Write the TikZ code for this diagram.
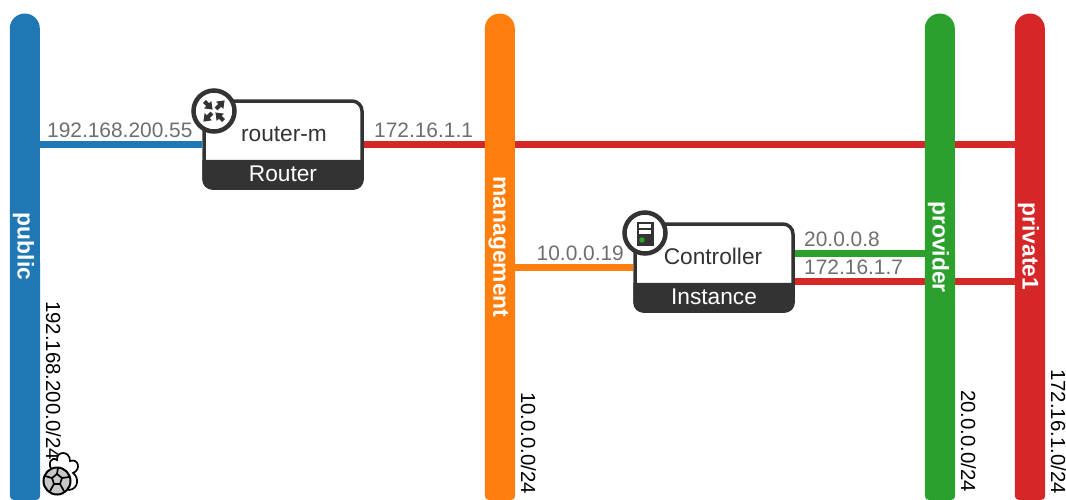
\documentclass[tikz,border=0pt]{standalone}
\usepackage{fontspec}
\setmainfont{Liberation Sans}
\usetikzlibrary{backgrounds,calc}
\definecolor{netblue}{HTML}{1F77B4}
\definecolor{netorange}{HTML}{FF7F0E}
\definecolor{netgreen}{HTML}{2CA02C}
\definecolor{netred}{HTML}{D62728}
\definecolor{dev}{HTML}{333333}
\definecolor{lab}{HTML}{6E6E6E}
\tikzset{
  x=1pt,y=-1pt,
  netbar/.style={minimum width=30pt,minimum height=486pt,inner sep=0pt,anchor=north},
  netname/.style={text=white,font=\fontsize{22.8}{23}\selectfont\bfseries,rotate=-90},
  cidr/.style={text=black,font=\fontsize{20.4}{20}\selectfont,rotate=-90,anchor=west,inner sep=0pt},
  iplabel/.style={text=lab,font=\fontsize{20.9}{20}\selectfont,inner sep=0pt,anchor=base west},
  link/.style={line width=7pt},
  devbox/.style={minimum width=158pt,minimum height=87pt,inner sep=0pt,draw=dev,line width=3.5pt,rounded corners=10pt,fill=white},
  devfoot/.style={text=white,font=\fontsize{22.7}{23}\selectfont,inner sep=0pt},
  devname/.style={text=dev,font=\fontsize{22.7}{23}\selectfont,inner sep=0pt},
  badge/.style={circle,draw=dev,line width=4.5pt,fill=white,minimum size=41pt,inner sep=0pt},
  gl/.style={draw=black,line width=1.7pt},
}
\newcommand{\netbar}[3]{%
  \node[netbar] (#1) at (#2,13.5) {};
  \fill[#3] ($(#1.north west)+(0,15)$) arc[start angle=180,end angle=0,x radius=15pt,y radius=15pt]
    -- ($(#1.south east)+(0,-4)$) arc[start angle=0,end angle=-90,radius=4pt]
    -- ($(#1.south west)+(4,0)$) arc[start angle=-90,end angle=-180,radius=4pt] -- cycle;
}
\newcommand{\devbox}[4]{%
  \node[devbox] (#1) at (#2,#3) {};
  \fill[dev,rounded corners=10pt] ($(#1.south west)+(0,-30)$) [sharp corners] -- ($(#1.south west)+(0,-30)$) [rounded corners=10pt] -- (#1.south west) -- (#1.south east) [sharp corners] -- ($(#1.south east)+(0,-30)$) -- cycle;
}
\begin{document}
\begin{tikzpicture}
\useasboundingbox (0,0) rectangle (1066,499);
% networks
\netbar{public}{25}{netblue}
\netbar{management}{500}{netorange}
\netbar{provider}{940}{netgreen}
\netbar{private}{1030}{netred}
\node[netname] (publicname) at (23.5,246.5) {public};
\node[netname] (managementname) at (498.5,247) {management};
\node[netname] (providername) at (938.5,247) {provider};
\node[netname] (privatename) at (1028.5,246.5) {private1};
\node[cidr] (publiccidr) at (53.5,301) {192.168.200.0/24};
\node[cidr] (managementcidr) at (528.5,392) {10.0.0.0/24};
\node[cidr] (providercidr) at (968.5,390) {20.0.0.0/24};
\node[cidr] (privatecidr) at (1058.5,369) {172.16.1.0/24};
% devices
\devbox{router}{283}{144.5}{}
\devbox{controller}{714}{267.5}{}
\node[devname] (routername) at (284,134) {router-m};
\node[devfoot] (routerfoot) at (283,174) {Router};
\node[devname] (controllername) at (713,256) {Controller};
\node[devfoot] (controllerfoot) at (714,297) {Instance};
% connectors behind bars and boxes
\begin{scope}[on background layer]
\draw[link,netblue] (router.west) -- (public.center |- router.west);
\draw[link,netred] (router.east) -- (private.center |- router.east);
\draw[link,netorange] (controller.west) -- (management.center |- controller.west);
\coordinate (ctrlgreen) at ($(controller.east)+(0,-14)$);
\coordinate (ctrlred) at ($(controller.east)+(0,14)$);
\draw[link,netgreen] (ctrlgreen) -- (provider.center |- ctrlgreen);
\draw[link,netred] (ctrlred) -- (private.center |- ctrlred);
\end{scope}
\node[iplabel] (ip1) at (47,137) {192.168.200.55};
\node[iplabel] (ip2) at (374,137) {172.16.1.1};
\node[iplabel] (ip3) at (536.5,260) {10.0.0.19};
\node[iplabel] (ip4) at (804,246) {20.0.0.8};
\node[iplabel] (ip5) at (804,274) {172.16.1.7};
% router badge: two arrows point inward, two outward
\node[badge] (routerbadge) at (214,111) {};
\foreach \a in {135,315}{
  \begin{scope}[shift={(routerbadge.center)},rotate=\a]
    \fill[dev] (13.5,-2) -- (9,-2) -- (9,-5.2) -- (2,0) -- (9,5.2) -- (9,2) -- (13.5,2) -- cycle;
  \end{scope}
}
\foreach \a in {45,225}{
  \begin{scope}[shift={(routerbadge.center)},rotate=\a]
    \fill[dev] (3,-2) -- (8,-2) -- (8,-5.2) -- (15,0) -- (8,5.2) -- (8,2) -- (3,2) -- cycle;
  \end{scope}
}
% instance badge
\node[badge] (controllerbadge) at (645,233) {};
\begin{scope}[shift={(controllerbadge.center)}]
  \fill[dev] (-8.5,-11) rectangle (8.5,13);
  \fill[white] (-5.7,-8.7) rectangle (5.7,-4.7);
  \fill[white] (-5.7,-3) rectangle (5.7,1);
  \fill[netgreen] (-3,7) circle[radius=2.8pt];
\end{scope}
% network icon
\draw[gl,fill=white] (53,472) .. controls (46,463) and (52,456) .. (57,460)
  .. controls (56,451) and (70,450) .. (70,461)
  .. controls (79,458) and (81,470) .. (73,473)
  .. controls (79,477) and (79,489) .. (69,490) -- cycle;
\node[circle,draw=black,line width=2pt,fill=black!22,minimum size=27pt,inner sep=0pt] (globe) at (57,481) {};
\begin{scope}[shift={(globe.center)}]
  \draw[gl] (-5,-3) -- (0,-7) -- (5,-3) -- (3,3) -- (-3,3) -- cycle;
  \draw[gl] (-5,-3) -- (-12,-5) (0,-7) -- (1,-13) (5,-3) -- (12,-4) (3,3) -- (7,10) (-3,3) -- (-7,10);
\end{scope}
\end{tikzpicture}
\end{document}
